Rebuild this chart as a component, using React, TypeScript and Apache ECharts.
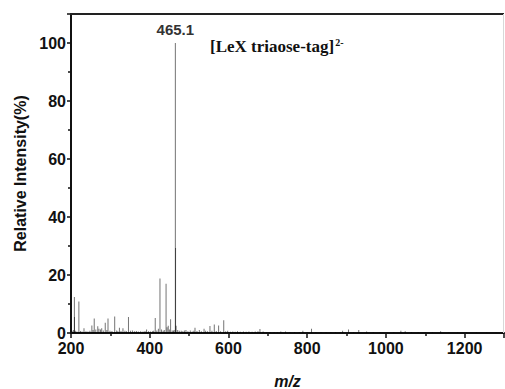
import React, { useEffect, useRef } from "react";
import * as echarts from "echarts";

const mzValues = [203, 206, 208.6, 208.8, 211, 215, 220, 224, 228, 233, 238, 243, 248, 253, 256, 259, 263, 268, 271, 275, 278, 282, 287, 291, 294, 299, 304, 311, 316, 319, 323, 327, 332, 337, 341, 346, 351, 356, 361, 366, 371, 377, 383, 388, 392, 397, 402, 407, 410, 414, 418, 422, 426, 430, 434, 437, 441.5, 444, 447, 450, 453, 457, 460, 462, 465.1, 465.6, 467, 471, 475, 480, 484, 488, 492, 497, 503, 508, 512, 515, 520, 526, 531, 538, 542, 547, 553, 558, 564, 569, 575, 580, 588, 593, 598, 605, 611, 617, 623, 630, 638, 645, 652, 660, 668, 675, 680, 688, 697, 706, 716, 724, 733, 745, 756, 768, 780, 789, 800, 811, 822, 835, 848, 860, 872, 884, 890, 905, 918, 931, 951, 968, 985, 1003, 1020, 1038, 1049, 1065, 1082, 1100, 1118, 1139, 1160, 1182, 1205, 1230, 1256, 1280];
const intensities = [0.6, 1.0, 12.4, 5.5, 0.8, 0.5, 10.9, 0.7, 0.5, 1.6, 0.6, 0.5, 0.8, 2.6, 1.0, 5.0, 1.2, 2.3, 1.5, 1.2, 1.6, 0.9, 3.5, 1.0, 5.0, 0.8, 0.7, 5.7, 0.9, 0.6, 1.8, 0.7, 1.6, 0.8, 0.6, 5.5, 0.8, 0.9, 0.6, 0.7, 0.5, 0.6, 0.5, 0.7, 1.2, 0.6, 0.5, 0.6, 0.8, 5.2, 0.9, 1.5, 18.8, 1.2, 0.8, 1.0, 17.0, 2.0, 2.5, 1.2, 4.7, 0.9, 0.8, 1.0, 100, 29.3, 2.5, 1.0, 0.8, 0.8, 0.6, 0.9, 1.0, 0.6, 0.9, 0.5, 0.8, 1.8, 0.7, 1.0, 0.6, 1.5, 0.8, 0.6, 2.4, 0.8, 2.9, 0.7, 2.6, 0.6, 4.4, 0.6, 0.8, 0.4, 0.5, 0.4, 0.6, 0.4, 0.5, 0.4, 0.5, 0.4, 0.5, 0.6, 1.4, 0.5, 0.3, 0.3, 0.3, 0.3, 0.5, 0.5, 0.3, 0.3, 0.3, 0.8, 0.3, 1.5, 0.3, 0.3, 0.3, 0.3, 0.3, 0.3, 0.8, 1.2, 0.3, 1.0, 0.5, 0.3, 0.2, 0.2, 0.3, 0.8, 0.6, 0.3, 0.2, 0.2, 0.3, 0.6, 0.2, 0.2, 0.2, 0.2, 0.2, 0.2];

const xTicks = { min: 200, max: 1300, interval: 200 };
const yTicks = { min: 0, max: 110, interval: 20 };
const annotation = "[LeX triaose-tag]";
const annotationCharge = "2-";

const FONT = "'Liberation Sans', Arial, sans-serif";
const SERIF = "'Liberation Serif', 'Times New Roman', serif";

export default function App() {
  const ref = useRef<HTMLDivElement>(null);
  useEffect(() => {
    if (!ref.current) return;
    const chart = echarts.init(ref.current, undefined, { renderer: "svg" });
    const maxVal = Math.max(...intensities);
    const data = mzValues.map((mz, i) => {
      const item: any = { value: [mz, intensities[i]] };
      if (intensities[i] === maxVal) {
        item.label = {
          show: true,
          position: "top",
          distance: 6,
          formatter: (p: any) => p.value[0].toFixed(1),
          color: "#333",
          fontFamily: FONT,
          fontWeight: "bold",
          fontSize: 15,
        };
      }
      return item;
    });
    const annotationText = {
      id: "annot",
      type: "text",
      left: 210,
      top: 37,
      z: 10,
      style: {
        text: `{a|${annotation}}{b|${annotationCharge}}`,
        rich: {
          a: { fontFamily: SERIF, fontWeight: "bold", fontSize: 17, fill: "#111", verticalAlign: "bottom" },
          b: { fontFamily: SERIF, fontWeight: "bold", fontSize: 10, fill: "#111", padding: [0, 0, 8, 1], verticalAlign: "bottom" },
        },
      },
    };
    chart.setOption({
      animation: false,
      grid: { left: 71, right: 1, top: 14, bottom: 56, containLabel: false, outerBoundsMode: "none" },
      xAxis: {
        type: "value",
        min: xTicks.min,
        max: xTicks.max,
        interval: xTicks.interval,
        position: "bottom",
        name: "m/z",
        nameLocation: "middle",
        nameGap: 40,
        nameTextStyle: { fontFamily: FONT, fontWeight: "bold", fontStyle: "italic", fontSize: 16, color: "#111" },
        axisLine: { show: true, onZero: false, lineStyle: { color: "#111", width: 2 } },
        axisTick: { show: true, length: 5, lineStyle: { color: "#111", width: 1.5 } },
        minorTick: { show: true, splitNumber: 2, length: 3, lineStyle: { color: "#111", width: 1.5 } },
        axisLabel: {
          margin: 8,
          lineHeight: 14,
          fontFamily: FONT,
          fontWeight: "bold",
          fontSize: 16,
          color: "#111",
          showMaxLabel: false,
          formatter: (v: number) => String(v),
        },
        splitLine: { show: false },
      },
      yAxis: {
        type: "value",
        min: yTicks.min,
        max: yTicks.max,
        interval: yTicks.interval,
        name: "Relative Intensity(%)",
        nameLocation: "middle",
        nameGap: 43,
        nameTextStyle: { fontFamily: FONT, fontWeight: "bold", fontSize: 16, color: "#111" },
        axisLine: { show: true, onZero: false, lineStyle: { color: "#111", width: 2 } },
        axisTick: { show: true, length: 4, lineStyle: { color: "#111", width: 1.5 } },
        minorTick: { show: true, splitNumber: 2, length: 3, lineStyle: { color: "#111", width: 1.5 } },
        axisLabel: {
          margin: 5,
          lineHeight: 13,
          fontFamily: FONT,
          fontWeight: "bold",
          fontSize: 16,
          color: "#111",
          showMaxLabel: false,
        },
        splitLine: { show: false },
      },
      graphic: [annotationText],
      series: [
        {
          type: "bar",
          barWidth: 1,
          itemStyle: { color: "rgba(0,0,0,0.55)" },
          data,
        },
      ],
    });
    const tl = chart.convertToPixel({ xAxisIndex: 0, yAxisIndex: 0 }, [xTicks.min, yTicks.max]) as number[];
    const tr = chart.convertToPixel({ xAxisIndex: 0, yAxisIndex: 0 }, [xTicks.max, yTicks.max]) as number[];
    const br = chart.convertToPixel({ xAxisIndex: 0, yAxisIndex: 0 }, [xTicks.max, yTicks.min]) as number[];
    chart.setOption({
      graphic: [
        annotationText,
        {
          id: "topFrame",
          type: "line",
          z: 5,
          shape: { x1: tl[0] - 1, y1: tl[1], x2: tr[0], y2: tr[1] },
          style: { stroke: "#222", lineWidth: 2 },
        },
        {
          id: "rightFrame",
          type: "line",
          z: 5,
          shape: { x1: tr[0] - 0.5, y1: tr[1], x2: br[0] - 0.5, y2: br[1] },
          style: { stroke: "#d8d8d8", lineWidth: 1 },
        },
      ],
    });
    return () => chart.dispose();
  }, []);
  return <div ref={ref} style={{ width: 505, height: 389, position: "absolute", left: 0, top: 0, background: "#fff" }} />;
}
